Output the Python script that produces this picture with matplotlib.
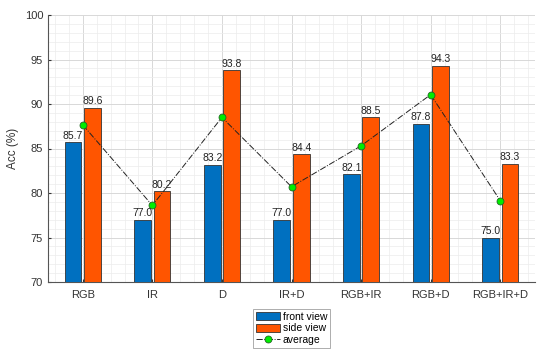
import matplotlib
matplotlib.use('Agg')
import matplotlib.pyplot as plt
import numpy as np
from matplotlib.ticker import MultipleLocator

# data
categories = ['RGB', 'IR', 'D', 'IR+D', 'RGB+IR', 'RGB+D', 'RGB+IR+D']
front_view = [85.7, 77.0, 83.2, 77.0, 82.1, 87.8, 75.0]
side_view = [89.6, 80.2, 93.8, 84.4, 88.5, 94.3, 83.3]
average = [(f + s) / 2 for f, s in zip(front_view, side_view)]

plt.rcParams['font.family'] = ['Arial', 'Liberation Sans', 'DejaVu Sans']

fig = plt.figure(figsize=(5.5, 3.52), dpi=100)
ax = fig.add_axes([48 / 550, 1 - 282 / 352, 487 / 550, 267 / 352])

x = np.arange(1, len(categories) + 1)
w = 0.24
off = 0.14
b1 = ax.bar(x - off, front_view, w, color='#0070C0', edgecolor='#333333',
            linewidth=0.6, label='front view', zorder=3)
b2 = ax.bar(x + off, side_view, w, color='#FF5500', edgecolor='#333333',
            linewidth=0.6, label='side view', zorder=3)
avg_line, = ax.plot(x, average, color='#222222', linestyle='-.', linewidth=0.7, marker='o',
                    markersize=5, markerfacecolor='#00EE00', markeredgecolor='#226622',
                    markeredgewidth=0.6, label='average', zorder=4)

for xi, v in zip(x - off, front_view):
    ax.text(xi, v + 0.15, f'{v:.1f}', ha='center', va='bottom', fontsize=7.5, color='#222222', zorder=5)
for xi, v in zip(x + off, side_view):
    ax.text(xi, v + 0.15, f'{v:.1f}', ha='center', va='bottom', fontsize=7.5, color='#222222', zorder=5)

ax.set_xlim(0.5, 7.5)
ax.set_ylim(70, 100)
ax.set_xticks(x)
ax.set_xticklabels(categories)
ax.yaxis.set_major_locator(MultipleLocator(5))
ax.yaxis.set_minor_locator(MultipleLocator(1))
ax.xaxis.set_minor_locator(MultipleLocator(0.2))
ax.grid(which='major', color='#d8d8d8', linewidth=0.7, zorder=0)
ax.grid(which='minor', color='#ececec', linewidth=0.5, zorder=0)
ax.set_axisbelow(True)
ax.tick_params(which='both', direction='in', labelsize=8, colors='#333333', length=2.5)
ax.tick_params(which='minor', length=0)
ax.tick_params(axis='x', pad=6)
for s in ['top', 'right']:
    ax.spines[s].set_visible(False)
for s in ['left', 'bottom']:
    ax.spines[s].set_color('#555555')
    ax.spines[s].set_linewidth(0.8)
ax.set_ylabel('Acc (%)', fontsize=8.5, color='#333333')
ax.yaxis.set_label_coords(-0.06, 0.5)

leg = ax.legend(handles=[b1, b2, avg_line], loc='upper center', bbox_to_anchor=(0.5, -0.08),
                fontsize=7.5, frameon=True, fancybox=False, edgecolor='#888888',
                handlelength=2.3, handleheight=0.8, labelspacing=0.15, borderpad=0.3,
                handletextpad=0.3)
leg.get_frame().set_linewidth(0.6)

fig.savefig('out.png', dpi=100)
